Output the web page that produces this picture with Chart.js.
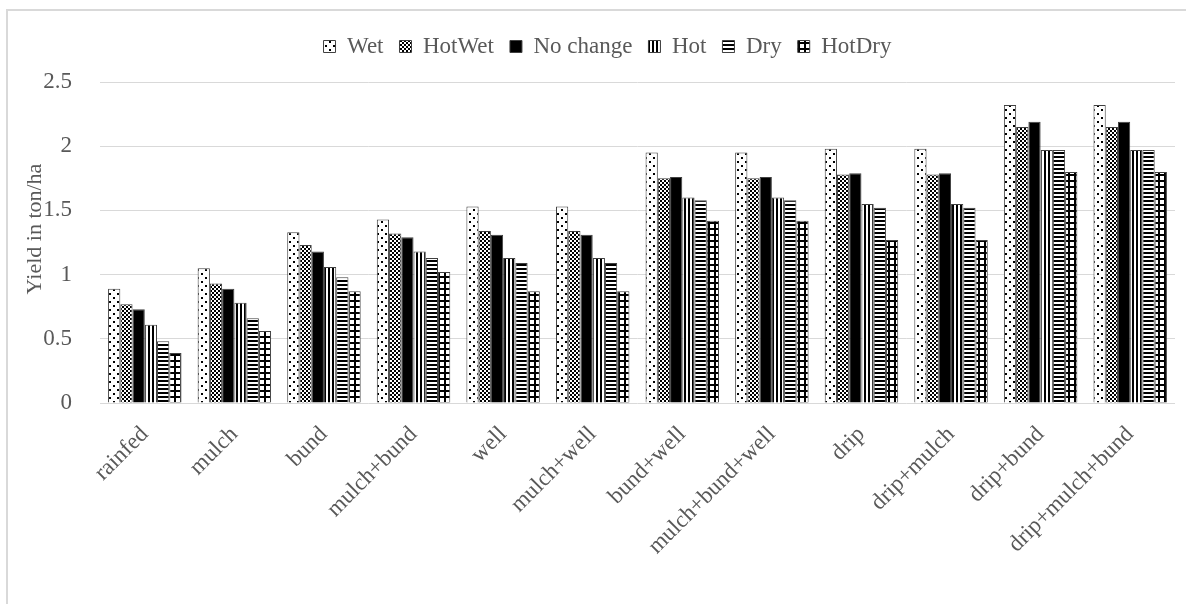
<!DOCTYPE html>
<html><head><meta charset="utf-8">
<script src="https://cdn.jsdelivr.net/npm/chart.js@4.4.1/dist/chart.umd.min.js"></script>
<style>html,body{margin:0;padding:0;background:#fff;} #wrap{width:1186px;height:604px;position:relative;}</style>
</head><body><div id="wrap"><canvas id="c" width="1186" height="604"></canvas></div>
<script>
const categories = ['rainfed','mulch','bund','mulch+bund','well','mulch+well','bund+well','mulch+bund+well','drip','drip+mulch','drip+bund','drip+mulch+bund'];
const seriesNames = ['Wet','HotWet','No change','Hot','Dry','HotDry'];
const wet      = [0.89,1.05,1.33,1.43,1.53,1.53,1.95,1.95,1.98,1.98,2.32,2.32];
const hotWet   = [0.77,0.93,1.23,1.32,1.34,1.34,1.75,1.75,1.78,1.78,2.15,2.15];
const noChange = [0.73,0.89,1.18,1.29,1.31,1.31,1.76,1.76,1.79,1.79,2.19,2.19];
const hot      = [0.61,0.78,1.06,1.18,1.13,1.13,1.60,1.60,1.55,1.55,1.97,1.97];
const dry      = [0.48,0.66,0.98,1.13,1.09,1.09,1.58,1.58,1.52,1.52,1.97,1.97];
const hotDry   = [0.39,0.56,0.87,1.02,0.87,0.87,1.42,1.42,1.27,1.27,1.80,1.80];
const yTickValues = [0,0.5,1,1.5,2,2.5];
const yTitle = 'Yield in ton/ha';

const TEXT = '#595959';
const FONT = '"Liberation Serif", "Times New Roman", serif';

function makePattern(type){
  const c = document.createElement('canvas');
  const x = c.getContext('2d');
  let s = 4;
  if (type === 'dots') s = 8;
  if (type === 'grid') s = 6;
  c.width = s; c.height = s;
  x.fillStyle = '#fff'; x.fillRect(0,0,s,s);
  x.fillStyle = '#000';
  if (type === 'dots') { x.fillRect(1,1,2,2); x.fillRect(5,5,2,2); }
  if (type === 'checker') { x.fillRect(0,0,2,2); x.fillRect(2,2,2,2); }
  if (type === 'vert') { x.fillRect(0,0,2,s); }
  if (type === 'horiz') { x.fillRect(0,0,s,2); }
  if (type === 'grid') { x.fillRect(0,0,s,2); x.fillRect(0,0,2,s); }
  return x.createPattern(c,'repeat');
}
const fills = [makePattern('dots'), makePattern('checker'), '#000000', makePattern('vert'), makePattern('horiz'), makePattern('grid')];
const seriesData = [wet, hotWet, noChange, hot, dry, hotDry];

const PAD_TOP = 19;
const AREA_TOP = 82;
const AREA_BOTTOM = 403;

const framePlugin = {
  id: 'frame',
  beforeLayout(chart){
    const lg = chart.legend;
    if (lg && !lg._fitWrapped) {
      const orig = lg.fit;
      lg.fit = function(){ orig.call(this); this.height = AREA_TOP - PAD_TOP; };
      lg._fitWrapped = true;
    }
  },
  afterLayout(chart){
    if (chart.legend) { chart.legend.left += 20; chart.legend.right += 20; }
  },
  beforeDraw(chart){
    const ctx = chart.ctx; ctx.save();
    ctx.fillStyle = '#fff'; ctx.fillRect(0,0,chart.width,chart.height);
    ctx.strokeStyle = '#d9d9d9'; ctx.lineWidth = 2;
    ctx.strokeRect(7,10,1400,900);
    ctx.restore();
  },
  afterDraw(chart){
    const ctx = chart.ctx; ctx.save();
    ctx.translate(35, 229); ctx.rotate(-Math.PI/2);
    ctx.font = '22px ' + FONT; ctx.fillStyle = TEXT;
    ctx.textAlign = 'center'; ctx.textBaseline = 'middle';
    ctx.fillText(yTitle, 0, 0);
    ctx.restore();
  }
};

new Chart(document.getElementById('c'), {
  type: 'bar',
  data: {
    labels: categories,
    datasets: seriesNames.map((n,i) => ({
      label: n, data: seriesData[i],
      backgroundColor: fills[i], borderColor: '#404040', borderWidth: 1,
      categoryPercentage: 0.82, barPercentage: 1.0
    }))
  },
  options: {
    responsive: false, animation: false,
    layout: { padding: { left: 0, right: 11, top: PAD_TOP, bottom: 0 } },
    plugins: {
      legend: {
        position: 'top',
        labels: { font: { family: FONT, size: 23 }, color: TEXT, boxWidth: 12, boxHeight: 12, padding: 16 }
      },
      tooltip: { enabled: false }
    },
    scales: {
      x: {
        grid: { display: false }, border: { display: false },
        ticks: { font: { family: FONT, size: 23 }, color: TEXT, minRotation: 45, maxRotation: 45, padding: 10, autoSkip: false },
        afterFit(s){ s.height = 604 - AREA_BOTTOM; }
      },
      y: {
        min: 0, max: 2.5,
        grid: { color: '#d9d9d9', lineWidth: 1, drawTicks: false }, border: { display: false },
        afterBuildTicks(s){ s.ticks = yTickValues.map(v => ({value: v})); },
        ticks: { font: { family: FONT, size: 23 }, color: TEXT, padding: 28, callback: v => String(v) },
        afterFit(s){ s.width = 100; }
      }
    }
  },
  plugins: [framePlugin]
});
</script></body></html>
